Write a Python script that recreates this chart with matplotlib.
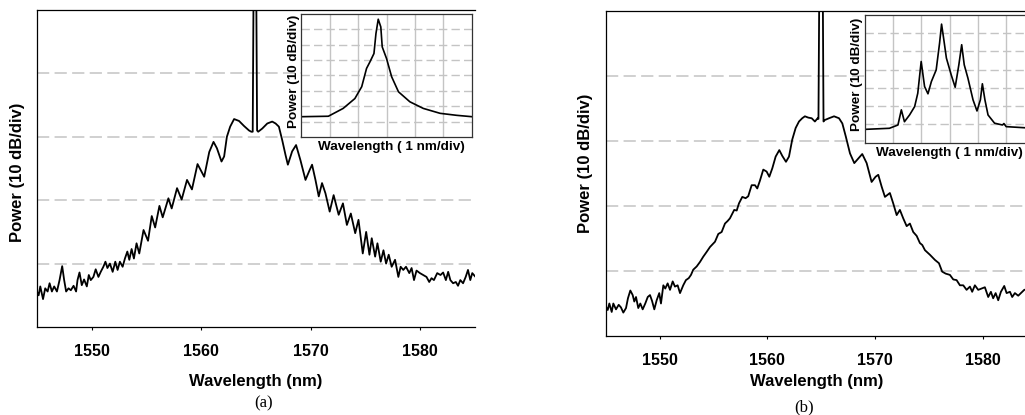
import numpy as np
import matplotlib
matplotlib.use('Agg')
from matplotlib import pyplot as plt

plt.rcParams.update({
    'font.family': ['Liberation Sans', 'DejaVu Sans'],
    'font.weight': 'bold',
    'axes.labelweight': 'bold',
})

# ---- panel (a): main spectrum (nm, dB) ----
wl_a = [1545.00, 1545.15, 1545.30, 1545.55, 1545.75, 1545.97, 1546.15, 1546.36, 1546.57, 1546.82,
        1547.06, 1547.30, 1547.48, 1547.66, 1547.88, 1548.09, 1548.34, 1548.57, 1548.70, 1548.88,
        1549.09, 1549.30, 1549.55, 1549.73, 1549.91, 1550.15, 1550.36, 1550.61, 1550.82, 1551.06,
        1551.25, 1551.43, 1551.66, 1551.91, 1552.15, 1552.36, 1552.57, 1552.82, 1553.03, 1553.25,
        1553.43, 1553.64, 1553.85, 1554.09, 1554.34, 1554.73, 1555.14, 1555.48, 1555.79, 1556.18,
        1556.48, 1557.00, 1557.30, 1557.79, 1558.21, 1558.70, 1559.15, 1559.66, 1560.27, 1560.73,
        1561.12, 1561.43, 1561.85, 1562.09, 1562.34, 1562.64, 1563.00, 1563.45, 1563.91, 1564.36,
        1564.57, 1564.70, 1564.80, 1565.00, 1565.10, 1565.20, 1565.57, 1566.03, 1566.48, 1566.79,
        1567.09, 1567.39, 1567.70, 1567.91, 1568.30, 1568.66, 1569.06, 1569.52, 1569.91, 1570.12,
        1570.43, 1570.73, 1571.03, 1571.34, 1571.73, 1572.09, 1572.55, 1572.94, 1573.30, 1573.66,
        1574.06, 1574.36, 1574.75, 1575.06, 1575.36, 1575.57, 1575.88, 1576.09, 1576.39, 1576.64,
        1576.88, 1577.12, 1577.39, 1577.70, 1578.00, 1578.21, 1578.45, 1578.70, 1579.00, 1579.21,
        1579.43, 1579.66, 1579.97, 1580.27, 1580.57, 1580.82, 1581.03, 1581.25, 1581.55, 1581.85,
        1582.09, 1582.34, 1582.55, 1582.75, 1583.00, 1583.25, 1583.45, 1583.66, 1583.91, 1584.15,
        1584.36, 1584.57, 1584.75, 1585.00]
p_a = [-64.4, -65.0, -63.6, -65.6, -63.9, -64.4, -63.1, -64.4, -63.6, -64.4,
       -62.6, -60.4, -62.6, -64.4, -63.9, -64.2, -63.5, -64.4, -62.6, -61.4,
       -63.4, -62.5, -63.6, -61.8, -62.6, -62.1, -60.9, -62.1, -61.3, -60.5,
       -59.7, -60.7, -60.0, -61.3, -59.7, -61.0, -59.7, -60.5, -59.2, -58.1,
       -59.4, -57.7, -59.2, -56.8, -58.4, -54.7, -56.4, -52.5, -54.3, -50.9,
       -52.7, -49.7, -51.3, -48.1, -49.9, -46.8, -48.3, -44.3, -46.3, -42.4,
       -40.8, -41.8, -43.9, -43.1, -40.0, -38.4, -37.2, -37.5, -38.3, -39.0,
       -39.2, -39.2, -10.0, -10.0, -39.0, -39.2, -38.7, -37.9, -37.6, -37.9,
       -38.4, -40.5, -42.9, -44.4, -42.3, -41.3, -43.7, -46.8, -45.2, -44.4,
       -46.8, -49.4, -47.3, -48.9, -51.8, -49.2, -52.3, -50.5, -53.9, -52.1,
       -55.2, -53.1, -58.4, -55.0, -58.6, -56.0, -58.9, -56.8, -59.7, -57.9,
       -60.0, -58.6, -60.5, -59.4, -62.1, -60.5, -61.0, -60.5, -61.5, -60.7,
       -62.6, -61.1, -61.5, -61.8, -62.1, -62.9, -62.3, -62.6, -61.5, -61.8,
       -61.4, -62.6, -61.3, -62.6, -63.1, -62.9, -63.5, -62.6, -63.1, -62.1,
       -61.0, -62.6, -61.5, -62.0]

# ---- panel (b): main spectrum (nm, dB) ----
wl_b = [1545.00, 1545.16, 1545.31, 1545.53, 1545.68, 1545.93, 1546.18, 1546.39, 1546.61, 1546.86,
        1547.04, 1547.26, 1547.48, 1547.63, 1547.79, 1548.00, 1548.19, 1548.41, 1548.65, 1548.88,
        1549.09, 1549.28, 1549.49, 1549.71, 1549.95, 1550.11, 1550.33, 1550.51, 1550.73, 1550.95,
        1551.20, 1551.41, 1551.66, 1551.88, 1552.18, 1552.43, 1552.69, 1552.90, 1553.11, 1553.43,
        1553.74, 1554.04, 1554.34, 1554.67, 1555.13, 1555.44, 1555.75, 1556.06, 1556.31, 1556.52,
        1556.74, 1556.92, 1557.15, 1557.36, 1557.67, 1557.98, 1558.22, 1558.54, 1558.85, 1559.06,
        1559.31, 1559.62, 1559.93, 1560.18, 1560.46, 1560.77, 1561.11, 1561.39, 1561.73, 1562.01,
        1562.31, 1562.63, 1562.94, 1563.24, 1563.49, 1563.80, 1564.12, 1564.42, 1564.67, 1564.75,
        1564.85, 1565.13, 1565.22, 1565.30, 1565.73, 1566.20, 1566.66, 1566.97, 1567.29, 1567.68,
        1568.08, 1568.45, 1568.82, 1569.23, 1569.69, 1570.06, 1570.31, 1570.62, 1570.93, 1571.39,
        1571.70, 1572.02, 1572.32, 1572.63, 1572.95, 1573.25, 1573.56, 1573.88, 1574.18, 1574.40,
        1574.65, 1575.11, 1575.58, 1575.95, 1576.25, 1576.57, 1576.97, 1577.28, 1577.59, 1577.90,
        1578.21, 1578.52, 1578.83, 1579.04, 1579.29, 1579.60, 1579.92, 1580.22, 1580.53, 1580.78,
        1580.99, 1581.22, 1581.46, 1581.71, 1582.02, 1582.24, 1582.55, 1582.76, 1583.01, 1583.32,
        1583.57, 1583.88, 1585.00]
p_b = [-65.5, -66.0, -65.0, -66.3, -65.0, -65.9, -65.2, -65.6, -66.4, -65.7,
       -64.2, -63.0, -63.7, -64.7, -64.0, -65.7, -65.0, -65.9, -65.0, -64.0,
       -63.7, -64.6, -65.9, -64.5, -63.4, -65.0, -62.2, -62.7, -61.9, -62.9,
       -61.6, -62.4, -62.2, -63.4, -62.2, -61.4, -61.1, -60.6, -59.8, -59.3,
       -58.6, -57.8, -57.1, -56.3, -55.5, -54.3, -54.0, -52.7, -52.3, -51.9,
       -51.2, -50.6, -50.7, -49.6, -48.6, -48.8, -48.5, -46.8, -46.8, -47.3,
       -46.1, -44.4, -44.7, -45.5, -44.2, -42.4, -41.4, -42.3, -43.2, -42.4,
       -39.8, -38.0, -37.0, -36.5, -36.2, -36.4, -36.5, -37.0, -36.5, -36.6,
       -10.0, -10.0, -37.0, -36.8, -36.5, -36.2, -36.5, -37.3, -39.3, -41.9,
       -43.4, -42.7, -42.0, -43.4, -46.3, -45.5, -45.2, -47.0, -48.6, -48.0,
       -49.6, -51.4, -50.6, -51.9, -53.1, -52.7, -54.0, -54.6, -55.7, -56.0,
       -56.8, -57.5, -58.3, -58.8, -60.1, -60.4, -60.6, -61.3, -61.4, -62.2,
       -62.2, -62.9, -62.4, -63.2, -62.2, -62.9, -62.7, -62.5, -64.0, -63.2,
       -64.2, -63.4, -64.5, -63.2, -62.3, -63.4, -63.2, -64.0, -63.4, -63.8,
       -63.4, -62.9, -62.5]

# ---- insets: relative wavelength (nm), relative power (dB) ----
ins_a_x = [0.00, 0.96, 1.48, 1.89, 2.13, 2.30, 2.42, 2.56, 2.63, 2.71,
           2.80, 2.85, 3.00, 3.18, 3.42, 3.82, 4.29, 4.88, 5.46, 6.00]
ins_a_y = [13.2, 13.5, 18.6, 25.0, 32.7, 44.6, 48.9, 54.3, 67.3, 76.6,
           71.6, 58.6, 51.1, 39.2, 29.4, 22.9, 18.6, 15.4, 14.1, 13.2]
ins_b_x = [0.00, 0.88, 1.18, 1.30, 1.41, 1.59, 1.77, 1.88, 2.00, 2.12,
           2.24, 2.36, 2.53, 2.65, 2.72, 2.80, 2.89, 3.06, 3.20, 3.33,
           3.43, 3.52, 3.65, 3.83, 3.97, 4.09, 4.16, 4.25, 4.36, 4.59,
           4.87, 4.92, 5.00, 5.65, 6.00]
ins_b_y = [7.3, 7.9, 9.7, 18.0, 11.5, 15.2, 19.8, 27.1, 44.5, 30.8,
           26.8, 33.5, 39.9, 54.6, 65.0, 56.4, 46.4, 37.2, 30.4, 42.7,
           53.7, 42.7, 35.4, 23.5, 17.4, 23.5, 32.3, 23.5, 15.2, 10.7,
           9.7, 10.5, 8.8, 8.2, 8.0]

xticks = [1550, 1560, 1570, 1580]
grid_c = '#c4c4c4'

fig = plt.figure(figsize=(10.25, 4.15), dpi=100)


def main_panel(rect, wl, p, ylab_xy, xlab_xy):
    ax = fig.add_axes(rect)
    ax.plot(wl, p, color='k', lw=1.3)
    ax.set_xlim(1545, 1585)
    ax.set_ylim(-70, -20)
    ax.set_xticks(xticks)
    ax.set_yticks([-60, -50, -40, -30])
    ax.yaxis.grid(True, ls=(0, (8, 3.5)), color=grid_c, lw=1.1)
    ax.tick_params(axis='y', left=False, labelleft=False)
    ax.tick_params(axis='x', length=2.5, width=0.8, pad=10, labelsize=11.5)
    ax.spines['right'].set_visible(False)
    for s in ax.spines.values():
        s.set_linewidth(0.9)
    ax.set_xlabel('Wavelength (nm)', fontsize=12)
    ax.set_ylabel('Power (10 dB/div)', fontsize=12)
    ax.yaxis.set_label_coords(*ylab_xy)
    ax.xaxis.set_label_coords(*xlab_xy)
    return ax


def inset(rect, x, y, ytop, ylab_xy, xlab_xy):
    ax = fig.add_axes(rect)
    ax.plot(x, y, color='k', lw=1.2)
    ax.set_xlim(0, 6)
    ax.set_ylim(0, ytop)
    for v in range(1, 6):
        ax.axvline(v, color=grid_c, lw=1.0, zorder=0)
    for h in range(10, ytop, 10):
        ax.axhline(h, color=grid_c, lw=1.0, ls=(0, (6, 3)), zorder=0)
    ax.set_xticks([])
    ax.set_yticks([])
    for s in ax.spines.values():
        s.set_linewidth(0.9)
        s.set_color('#333333')
    ax.set_xlabel('Wavelength ( 1 nm/div)', fontsize=9.7)
    ax.set_ylabel('Power (10 dB/div)', fontsize=9.7)
    ax.yaxis.set_label_coords(*ylab_xy)
    ax.xaxis.set_label_coords(*xlab_xy)
    return ax


main_panel([37 / 1025, 88 / 415, 438 / 1025, 317 / 415], wl_a, p_a,
           (-0.027, 0.489), (0.5, -0.148))
main_panel([606 / 1025, 79 / 415, 430.3 / 1025, 325 / 415], wl_b, p_b,
           (-0.030, 0.532), (0.49, -0.117))

inset([301 / 1025, 278 / 415, 171 / 1025, 123 / 415], ins_a_x, ins_a_y, 80,
      (-0.006, 0.533), (0.53, -0.033))
inset([864.5 / 1025, 272.3 / 415, 170 / 1025, 127.7 / 415], ins_b_x, ins_b_y, 70,
      (-0.009, 0.538), (0.50, -0.034))

fig.text(264 / 1025, 1 - 403 / 415, '(a)', ha='center', va='center',
         fontsize=12, fontweight='normal', family=['Liberation Serif', 'DejaVu Serif'])
fig.text(804 / 1025, 1 - 407 / 415, '(b)', ha='center', va='center',
         fontsize=12, fontweight='normal', family=['Liberation Serif', 'DejaVu Serif'])

fig.savefig('out.png', dpi=100)
